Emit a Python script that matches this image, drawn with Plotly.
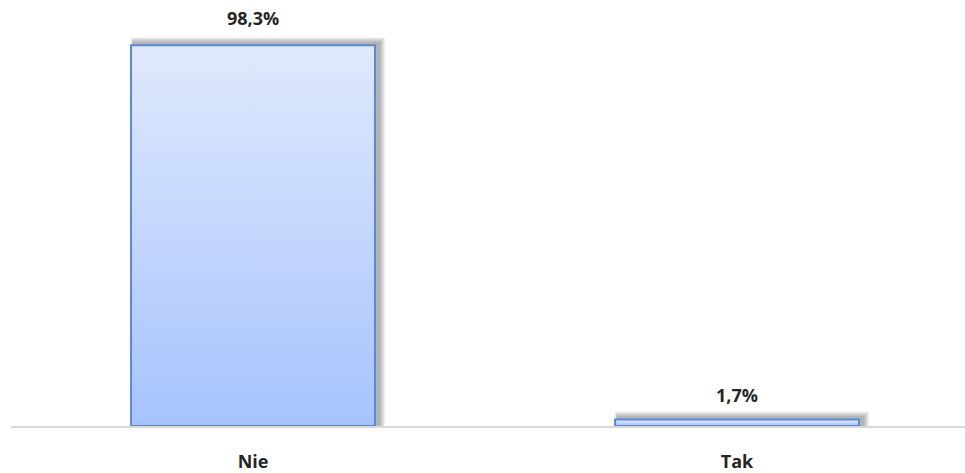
import plotly.graph_objects as go

# Survey answer shares (%)
categories = ["Nie", "Tak"]
values = [98.3, 1.7]
labels = ["98,3%", "1,7%"]

BAR_W = 0.504
X_RANGE = [-0.5, 1.471]
Y_RANGE = [0, 107.4]
W, H = 965, 473
M = dict(l=11, r=0, t=10, b=39)

px_x = (X_RANGE[1] - X_RANGE[0]) / (W - M["l"] - M["r"])
px_y = (Y_RANGE[1] - Y_RANGE[0]) / (H - M["t"] - M["b"])

fig = go.Figure()

# soft drop shadow behind each bar (offset up/right)
for i, v in enumerate(values):
    for k in range(6, 0, -1):
        x0 = i - BAR_W / 2 + (2 - k * 0.3) * px_x
        x1 = i + BAR_W / 2 + (4 + k) * px_x
        y1 = v + (2 + k) * px_y
        fig.add_trace(go.Scatter(
            x=[x0, x1, x1, x0, x0], y=[0, 0, y1, y1, 0],
            mode="lines", line=dict(width=0), fill="toself",
            fillcolor="rgba(60,60,60,0.08)", hoverinfo="skip", showlegend=False,
        ))

# gradient-filled bar bodies
for i, v in enumerate(values):
    x0, x1 = i - BAR_W / 2, i + BAR_W / 2
    fig.add_trace(go.Scatter(
        x=[x0, x1, x1, x0, x0], y=[0, 0, v, v, 0],
        mode="lines", line=dict(width=2, color="#5a89cf"), fill="toself",
        fillgradient=dict(type="vertical",
                          colorscale=[[0, "#a6c3fc"], [1, "#dfe9fd"]]),
        hoverinfo="skip", showlegend=False,
    ))

# value labels
for i, (v, t) in enumerate(zip(values, labels)):
    fig.add_annotation(x=i, y=v, text=f"<b>{t}</b>", showarrow=False,
                       yanchor="bottom", yshift=13 if v > 50 else 10,
                       font=dict(size=18, color="#262626", family="Open Sans"))

fig.update_layout(
    width=W, height=H, margin=M,
    plot_bgcolor="white", paper_bgcolor="white",
    xaxis=dict(range=X_RANGE, tickvals=[0, 1], ticktext=[f"<b>{c}</b>" for c in categories],
               showgrid=False, zeroline=False, showline=True, linecolor="#d9d9d9",
               linewidth=2, ticks="", ticklabelstandoff=18,
               tickfont=dict(size=18, color="#262626", family="Open Sans")),
    yaxis=dict(range=Y_RANGE, visible=False, showgrid=False, zeroline=False),
)

fig.write_html("out.html")
